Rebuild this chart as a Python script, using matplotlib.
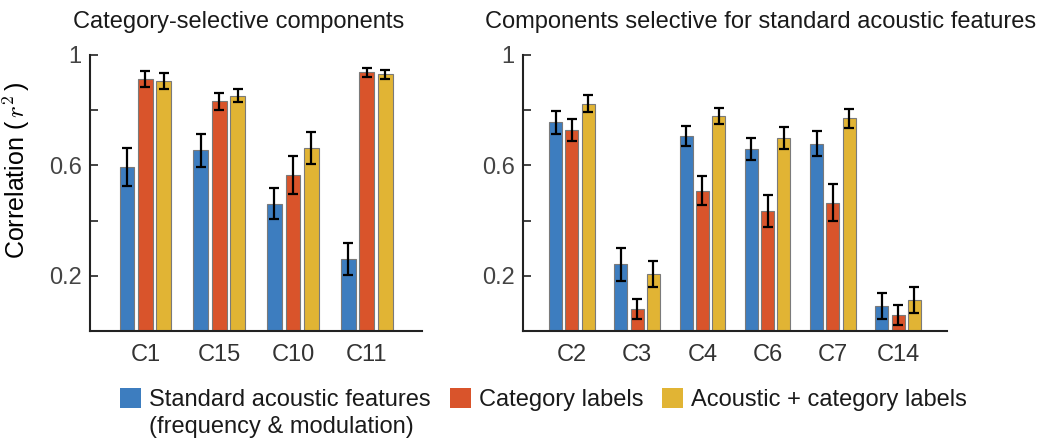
import numpy as np
import matplotlib
matplotlib.use("Agg")
import matplotlib.pyplot as plt
import matplotlib.patches as mpatches

# Model fits per component (r^2) with error bars
cat_components = ["C1", "C15", "C10", "C11"]
cat_acoustic = [0.593, 0.655, 0.461, 0.262]
cat_acoustic_err = [0.069, 0.060, 0.056, 0.058]
cat_labels = [0.913, 0.832, 0.565, 0.937]
cat_labels_err = [0.028, 0.030, 0.069, 0.017]
cat_combined = [0.907, 0.853, 0.663, 0.930]
cat_combined_err = [0.029, 0.022, 0.057, 0.016]

ac_components = ["C2", "C3", "C4", "C6", "C7", "C14"]
ac_acoustic = [0.756, 0.241, 0.707, 0.660, 0.679, 0.091]
ac_acoustic_err = [0.041, 0.058, 0.037, 0.040, 0.045, 0.047]
ac_labels = [0.729, 0.080, 0.509, 0.435, 0.465, 0.058]
ac_labels_err = [0.040, 0.035, 0.053, 0.058, 0.067, 0.035]
ac_combined = [0.824, 0.207, 0.778, 0.699, 0.770, 0.113]
ac_combined_err = [0.030, 0.048, 0.029, 0.040, 0.036, 0.047]

model_names = ["Standard acoustic features", "Category labels", "Acoustic + category labels"]
model_note = "(frequency & modulation)"
colors = ["#3d7dbf", "#d9542b", "#e1b434"]

yticks = [0.2, 0.4, 0.6, 0.8, 1.0]
yticklabels = ["0.2", "", "0.6", "", "1"]

plt.rcParams.update({
    "font.family": ["Liberation Sans", "DejaVu Sans"],
    "font.size": 17,
    "mathtext.fontset": "cm",
    "text.color": "#1a1a1a",
})

fig = plt.figure(figsize=(10.42, 4.41), dpi=100)
ax_cat = fig.add_axes([0.0864, 0.2494, 0.3186, 0.6259])
ax_ac = fig.add_axes([0.5019, 0.2494, 0.4069, 0.6259])

width = 0.2
step = 0.25


def draw_panel(ax, comps, series, errs):
    x = np.arange(len(comps))
    for i, (vals, err) in enumerate(zip(series, errs)):
        xs = x + (i - 1) * step
        ax.bar(xs, vals, width, color=colors[i], edgecolor="#7a7a7a", linewidth=0.8, zorder=2)
        ax.errorbar(xs, vals, yerr=err, fmt="none", ecolor="black", elinewidth=1.6,
                    capsize=3.8, capthick=1.6, zorder=3)
    ax.set_xlim(-0.75, len(comps) - 0.25)
    ax.set_ylim(0, 1)
    ax.set_xticks(x)
    ax.set_xticklabels(comps)
    ax.set_yticks(yticks)
    ax.set_yticklabels(yticklabels)
    ax.tick_params(axis="x", length=0, pad=9, labelsize=17, labelcolor="#333333")
    ax.tick_params(axis="y", direction="in", length=6, width=1.2, pad=6,
                   labelsize=17, labelcolor="#444444", color="#222222")
    for side in ["top", "right"]:
        ax.spines[side].set_visible(False)
    for side in ["left", "bottom"]:
        ax.spines[side].set_linewidth(1.5)
        ax.spines[side].set_color("#222222")


draw_panel(ax_cat, cat_components,
           [cat_acoustic, cat_labels, cat_combined],
           [cat_acoustic_err, cat_labels_err, cat_combined_err])
draw_panel(ax_ac, ac_components,
           [ac_acoustic, ac_labels, ac_combined],
           [ac_acoustic_err, ac_labels_err, ac_combined_err])

ax_cat.set_ylabel(r"Correlation ($\,r^2\,$)", fontsize=18)
ax_cat.yaxis.set_label_coords(-0.175, 0.58)

fig.text(0.070, 0.9365, "Category-selective components", fontsize=17, ha="left", va="baseline")
fig.text(0.4655, 0.9365, "Components selective for standard acoustic features", fontsize=17,
         ha="left", va="baseline")

handles = [mpatches.Patch(facecolor=c, edgecolor="none") for c in colors]
leg = fig.legend(handles, model_names, loc="center left", bbox_to_anchor=(0.1152, 0.094),
                 ncol=3, frameon=False, fontsize=17, handlelength=0.89, handleheight=0.89,
                 handletextpad=0.34, columnspacing=0.8, borderpad=0, borderaxespad=0)

# second line under the first legend entry
fig.canvas.draw()
renderer = fig.canvas.get_renderer()
t0 = leg.get_texts()[0].get_window_extent(renderer)
fig.text(t0.x0 / fig.bbox.width, 0.018, model_note, fontsize=17, ha="left", va="baseline")

fig.savefig("out.png", dpi=100)
